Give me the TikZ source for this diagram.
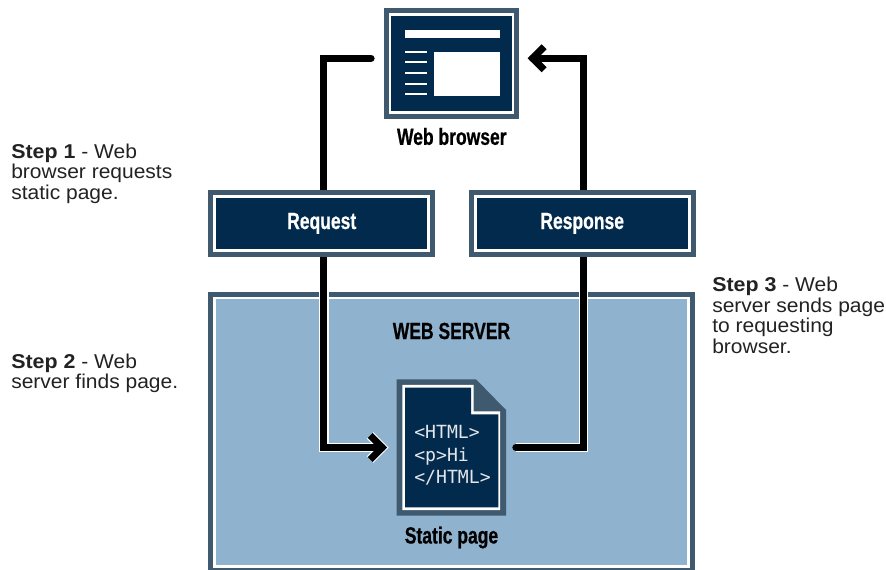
\documentclass[tikz,border=0pt]{standalone}
\usepackage{fontspec}
\setmainfont{Liberation Sans}
\newfontfamily\condfont[FakeStretch=0.75,FakeBold=0.6]{Liberation Sans Bold}
\newfontfamily\stepfont[FakeStretch=1.05]{Liberation Sans}
\newfontfamily\stepbold[FakeStretch=1.07]{Liberation Sans Bold}
\newfontfamily\codefont{DejaVu Sans Mono}
\definecolor{navy}{HTML}{022A4C}
\definecolor{slate}{HTML}{3F5A6E}
\definecolor{skyblue}{HTML}{8FB2CF}
\definecolor{codegrey}{HTML}{E2E6EA}
\definecolor{steptext}{HTML}{222222}
\def\px{0.75pt}
\tikzset{
  panel/.style={rectangle,inner sep=0pt,outer sep=0pt,draw=white,line width=2.7*\px,miter limit=10,
    preaction={draw=slate,line width=12.7*\px,fill=none},fill=#1},
  paneltitle/.style={text=white,font=\condfont\fontsize{17.5pt}{18pt}\selectfont},
  caption/.style={inner sep=0pt,text=black,font=\condfont\fontsize{17.5pt}{18pt}\selectfont},
  steplabel/.style={anchor=north west,align=left,inner sep=0pt,text=steptext,
    font=\stepfont\fontsize{15pt}{15.4pt}\selectfont},
  codetext/.style={anchor=west,align=left,inner sep=0pt,text=codegrey,
    font=\codefont\fontsize{13.6pt}{16.9pt}\selectfont},
  connector/.style={draw=black,line width=7.3*\px,miter limit=10,
    preaction={draw=white,line width=9.5*\px}},
  chevronhalo/.style={draw=white,line width=9.2*\px,miter limit=10},
  chevron/.style={draw=black,line width=7*\px,miter limit=10},
}
\begin{document}
\begin{tikzpicture}[x=0.75pt,y=-0.75pt]
\useasboundingbox (0,0) rectangle (886,570);
% web server
\node[panel=skyblue,minimum width=474*\px,minimum height=268.4*\px] (server) at (451.65,432.2) {};
\node[caption] (servertitle) at (451.5,331) {WEB SERVER};
% connector waypoints
\coordinate (reqstart) at (371,58.3);
\coordinate (reqtop) at (323.8,58.3);
\coordinate (reqbottom) at (323.8,447.5);
\coordinate (reqend) at (382.2,447.5);
\coordinate (reqarma) at (370.2,435.5);
\coordinate (reqarmb) at (370.2,459.5);
\coordinate (resstart) at (516,447.5);
\coordinate (resbottom) at (583.7,447.5);
\coordinate (restop) at (583.7,58.3);
\coordinate (resend) at (532.6,58.3);
\coordinate (resarma) at (544.1,46.8);
\coordinate (resarmb) at (544.1,69.8);
% connectors
\draw[chevronhalo] (reqarma) -- (reqend) -- (reqarmb);
\draw[chevronhalo] (resarma) -- (resend) -- (resarmb);
\draw[connector,line cap=round] (reqstart) -- (reqtop) -- (reqbottom) -- (reqend);
\draw[connector,line cap=round] (resstart) -- (resbottom) -- (restop) -- (resend);
\draw[chevron] (reqarma) -- (reqend) -- (reqarmb);
\draw[chevron] (resarma) -- (resend) -- (resarmb);
% request / response
\node[panel=navy,paneltitle,minimum width=214*\px,minimum height=54.2*\px] (request) at (321.7,223.4) {Request};
\node[panel=navy,paneltitle,minimum width=214*\px,minimum height=54.2*\px] (response) at (582.2,223.4) {Response};
% browser
\node[panel=navy,minimum width=123*\px,minimum height=97.7*\px] (browser) at (451.5,63.5) {};
\fill[white] (405,30) rectangle (499.7,38.3);
\foreach \ly in {51.7,62.3,73.3,83.7,94.3}{\fill[white] (405,\ly-1) rectangle (426.7,\ly+1);}
\fill[white] (434,51.7) rectangle (500,95.7);
\node[caption] (browsercap) at (451.8,136.5) {Web browser};
% static page
\fill[slate] (396.7,379.3) -- (476,379.3) -- (506,410) -- (506,515.7) -- (396.7,515.7) -- cycle;
\fill[white] (402.3,385) -- (473.7,385) -- (473.7,411.5) -- (500,411.5) -- (500,510) -- (402.3,510) -- cycle;
\fill[navy] (405,387.7) -- (471,387.7) -- (471,414.3) -- (498.3,414.3) -- (498.3,507.3) -- (405,507.3) -- cycle;
\node[inner sep=0pt,minimum width=109.3*\px,minimum height=136.4*\px] (page) at (451.3,447.5) {};
\node[codetext] (code) at (414,455.3) {<HTML>\\[0pt]<p>Hi\\[0pt]</HTML>};
\node[caption] (pagecap) at (451.5,537.5) {Static page};
% step texts
\node[steplabel] (step1) at (11,143.5) {{\stepbold Step 1} - Web\\browser requests\\static page.};
\node[steplabel] (step2) at (11,353.5) {{\stepbold Step 2} - Web\\server finds page.};
\node[steplabel] (step3) at (712,277) {{\stepbold Step 3} - Web\\server sends page\\to requesting\\browser.};
\end{tikzpicture}
\end{document}
